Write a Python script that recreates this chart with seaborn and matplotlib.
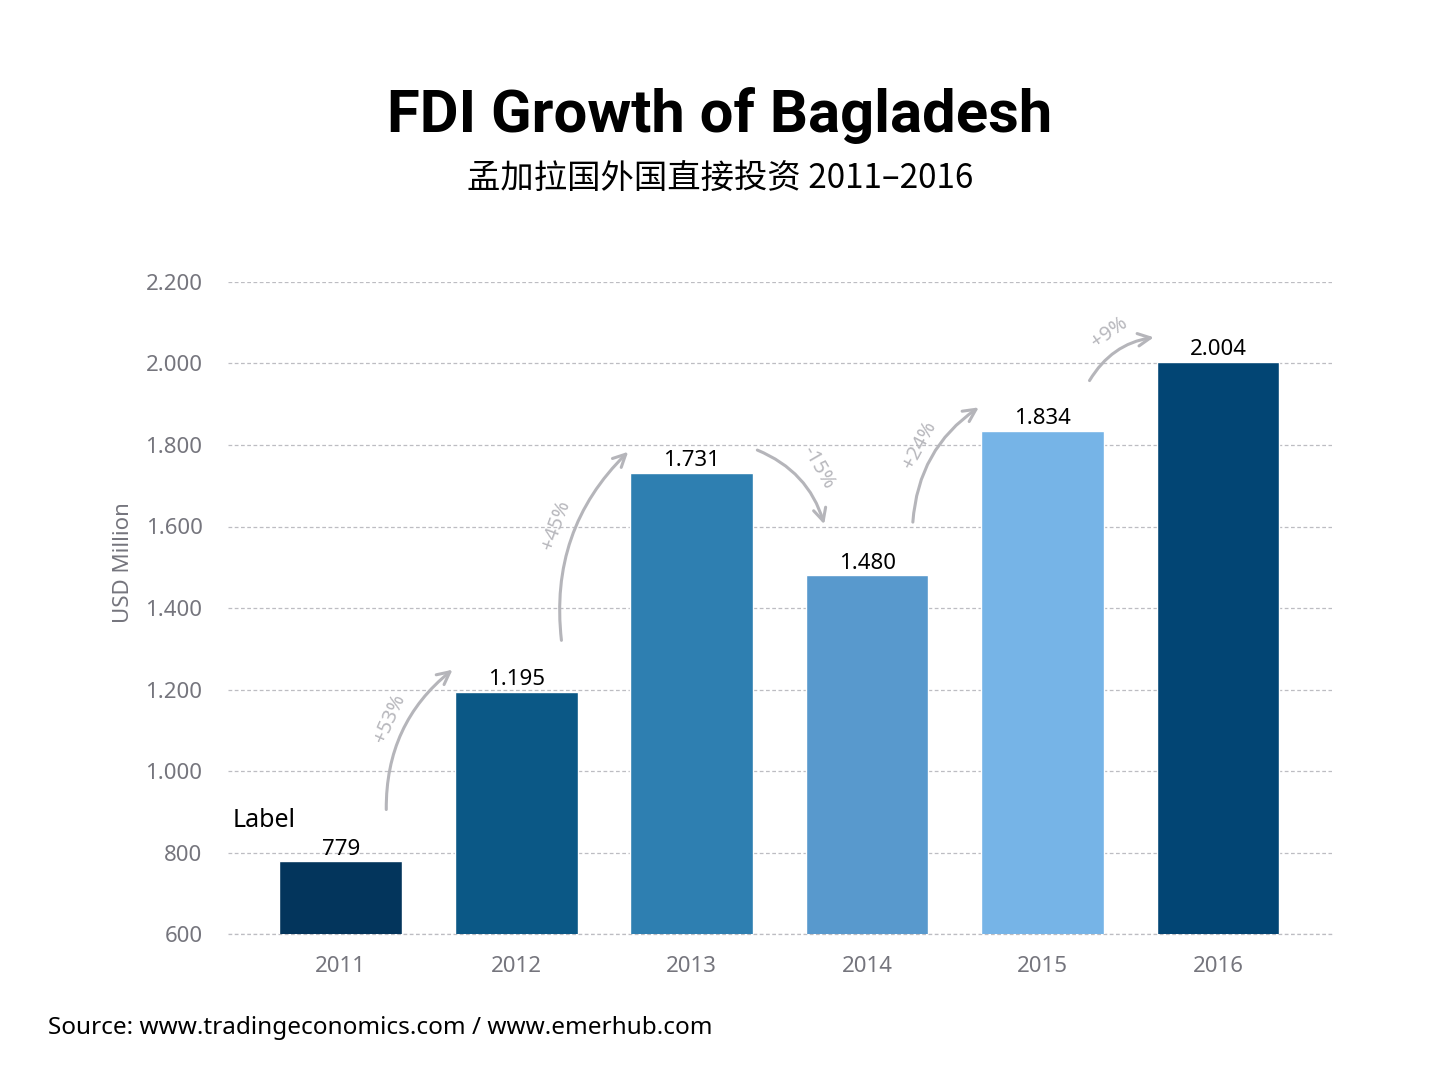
import numpy as np
import matplotlib.pyplot as plt
import pandas as pd
import seaborn as sns
from matplotlib.ticker import FuncFormatter

years = ['2011', '2012', '2013', '2014', '2015', '2016']
fdi = [779, 1195, 1731, 1480, 1834, 2004]
bar_colors = ['#03355c', '#0b5886', '#2e7fb1', '#5899cd', '#76b4e7', '#024574']
growth_labels = ['+53%', '+45%', '-15%', '+24%', '+9%']

# arrows: (start x, start y, end x, end y, text x, text y, rotation)
arrows = [
    (0.26, 899, 0.65, 1253, 0.28, 1130, 66),
    (1.26, 1314, 1.65, 1788, 1.23, 1604, 70),
    (2.36, 1790, 2.76, 1599, 2.72, 1744, -60),
    (3.26, 1604, 3.65, 1896, 3.30, 1800, 62),
    (4.26, 1952, 4.65, 2065, 4.38, 2075, 35),
]

def dot_thousands(v, pos=None):
    return f"{int(round(v)):,}".replace(',', '.')

sns.set_style('white')
plt.rcParams['font.family'] = ['Noto Sans', 'Noto Sans CJK SC', 'DejaVu Sans']
plt.rcParams['text.color'] = 'black'

df = pd.DataFrame({'year': years, 'fdi': fdi})

fig = plt.figure(figsize=(14.4, 10.8), dpi=100)
ax = fig.add_axes([0.158, 0.135, 0.767, 0.604])
sns.barplot(data=df, x='year', y='fdi', hue='year', palette=bar_colors,
            width=0.7, legend=False, ax=ax, saturation=1, zorder=3)

ax.set_ylim(600, 2200)
ax.set_xlim(-0.645, 5.65)
ax.set_yticks(np.arange(600, 2201, 200))
ax.yaxis.set_major_formatter(FuncFormatter(dot_thousands))
ax.grid(axis='y', linestyle=(0, (3, 2)), color='#bdbdc2', linewidth=0.9, zorder=0)
ax.axhline(600, linestyle=(0, (3, 2)), color='#bdbdc2', linewidth=0.9, zorder=0, clip_on=False)
ax.set_axisbelow(True)
for s in ax.spines.values():
    s.set_visible(False)
ax.tick_params(axis='both', length=0, labelsize=16, labelcolor='#75757d')
ax.tick_params(axis='y', pad=18)
ax.tick_params(axis='x', pad=16)
ax.set_xlabel('')
ax.set_ylabel('USD Million', fontsize=16, color='#75757d')
ax.yaxis.set_label_coords(-0.085, 0.569)

for i, v in enumerate(fdi):
    ax.text(i, v + 4, dot_thousands(v), ha='center', va='bottom', fontsize=16, color='black', zorder=4)

ax.text(-0.615, 880, 'Label', ha='left', va='center', fontsize=18, color='black')

for (x0, y0, x1, y1, tx, ty, rot), lab in zip(arrows, growth_labels):
    ax.annotate('', xy=(x1, y1), xytext=(x0, y0),
                arrowprops=dict(arrowstyle='->,head_length=0.9,head_width=0.45', color='#b5b5ba',
                                lw=2.2, connectionstyle='arc3,rad=-0.25'), zorder=5)
    ax.text(tx, ty, lab, ha='center', va='center', rotation=rot, fontsize=14.5, color='#b8b8bd', zorder=5)

fig.text(0.5, 0.893, 'FDI Growth of Bagladesh', ha='center', va='center', fontsize=43,
         fontweight='bold', family=['Roboto', 'DejaVu Sans'], color='black')
fig.text(0.5, 0.835, '孟加拉国外国直接投资 2011–2016', ha='center', va='center', fontsize=24,
         family=['Noto Sans CJK SC', 'DejaVu Sans'], color='black')
fig.text(0.033, 0.048, 'Source: www.tradingeconomics.com / www.emerhub.com', ha='left', va='center',
         fontsize=17.5, color='black')

fig.savefig('out.png', dpi=100, facecolor='white')
